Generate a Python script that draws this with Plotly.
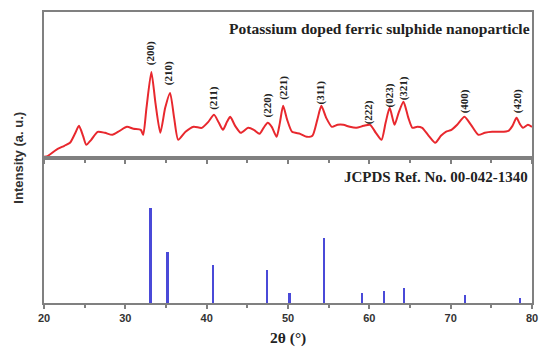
import plotly.graph_objects as go
from plotly.subplots import make_subplots

# Experimental XRD pattern (2θ in degrees, intensity in arbitrary units)
two_theta = [20.0, 20.5, 21.5, 22.5, 23.2, 23.8, 24.3, 24.8, 25.2, 25.8, 26.6, 27.5, 28.4, 29.3,
             30.2, 31.0, 31.9, 32.2, 32.6, 33.2, 33.7, 34.3, 34.9, 35.5, 36.0, 36.5, 37.4, 38.4,
             39.4, 40.2, 40.9, 41.5, 42.0, 42.5, 42.9, 43.5, 44.2, 45.1, 45.8, 46.5, 47.0, 47.5,
             48.0, 48.6, 49.0, 49.4, 49.9, 50.5, 51.5, 52.3, 53.0, 53.6, 54.1, 54.7, 55.4, 56.1,
             56.8, 57.6, 58.4, 59.3, 60.1, 60.8, 61.5, 62.0, 62.5, 63.1, 63.6, 64.2, 64.8, 65.3,
             65.9, 66.5, 67.3, 68.1, 68.8, 69.4, 70.1, 70.8, 71.7, 72.5, 73.4, 74.2, 75.1, 76.1,
             77.1, 77.6, 78.1, 78.5, 78.9, 79.5, 80.0]
intensity = [1, 2, 8, 12, 15, 24, 32, 22, 13, 18, 26, 25, 23, 27,
             31, 29, 28, 23, 50, 86, 55, 25, 50, 65, 40, 18, 26, 31,
             30, 36, 43, 35, 28, 36, 41, 32, 25, 30, 28, 24, 30, 35,
             31, 21, 35, 52, 38, 26, 24, 21, 22, 38, 52, 40, 31, 33,
             33, 31, 30, 32, 33, 25, 18, 35, 50, 33, 45, 56, 40, 30,
             31, 30, 22, 15, 22, 26, 28, 33, 41, 33, 23, 25, 26, 26,
             27, 32, 40, 34, 30, 33, 31]

# Miller index labels
hkl_labels = ["(200)", "(210)", "(211)", "(220)", "(221)", "(311)", "(222)", "(023)", "(321)", "(400)", "(420)"]
hkl_theta = [33.2, 35.4, 40.9, 47.5, 49.5, 54.0, 59.9, 62.5, 64.2, 71.7, 78.2]
hkl_base = [91, 71, 46, 38, 56, 51, 31, 48, 56, 43, 43]

# JCPDS reference lines
ref_theta = [33.1, 35.2, 40.8, 47.4, 50.2, 54.4, 59.1, 61.8, 64.3, 71.8, 78.5]
ref_int = [95, 51, 38, 33, 10, 65, 10, 12, 15, 8, 5]

x_ticks = [20, 30, 40, 50, 60, 70, 80]

fig = make_subplots(rows=2, cols=1, shared_xaxes=True, vertical_spacing=0)

fig.add_trace(go.Scatter(x=two_theta, y=intensity, mode="lines",
                         line=dict(color="#e8282e", width=2, shape="spline", smoothing=0.6),
                         showlegend=False), row=1, col=1)
fig.add_trace(go.Bar(x=ref_theta, y=ref_int, width=0.28, marker=dict(color="#4a4ad8", line=dict(width=0)),
                     showlegend=False), row=2, col=1)

axis_col = "#808080"
xcommon = dict(range=[20, 80], tickvals=x_ticks, showline=True, linecolor=axis_col, linewidth=2,
               ticks="outside", ticklen=4, tickcolor=axis_col, tickwidth=1.5, mirror=True,
               minor=dict(dtick=5, ticks="outside", ticklen=3, tickcolor=axis_col, tick0=20),
               showgrid=False, zeroline=False)
fig.update_xaxes(**xcommon)
fig.update_xaxes(showticklabels=False, row=1, col=1)
fig.update_xaxes(showticklabels=True, tickfont=dict(family="Liberation Sans", size=11, color="#333333", weight="bold"),
                 row=2, col=1)
ycommon = dict(showline=True, linecolor=axis_col, linewidth=2, mirror=True, showticklabels=False,
               ticks="", showgrid=False, zeroline=False)
fig.update_yaxes(range=[0, 146], **ycommon, row=1, col=1)
fig.update_yaxes(range=[0, 145], **ycommon, row=2, col=1)
fig.update_layout(yaxis=dict(domain=[0.499, 1]), yaxis2=dict(domain=[0, 0.499]))

annotations = []
for lab, xt, yb in zip(hkl_labels, hkl_theta, hkl_base):
    annotations.append(dict(x=xt, y=yb, xref="x", yref="y", text=lab, textangle=-90, showarrow=False,
                            yanchor="bottom", xanchor="center",
                            font=dict(family="Liberation Serif", size=11, color="#222222", weight="bold")))
annotations.append(dict(x=1.0, y=0.943, xref="paper", yref="paper", xanchor="right", yanchor="middle",
                        text="Potassium doped ferric sulphide nanoparticle", showarrow=False,
                        font=dict(family="Liberation Serif", size=15.5, color="#222222", weight="bold")))
annotations.append(dict(x=0.995, y=0.433, xref="paper", yref="paper", xanchor="right", yanchor="middle",
                        text="JCPDS Ref. No. 00-042-1340", showarrow=False,
                        font=dict(family="Liberation Serif", size=15, color="#222222", weight="bold")))
annotations.append(dict(x=-0.053, y=0.5, xref="paper", yref="paper", xanchor="center", yanchor="middle",
                        text="Intensity (a. u.)", textangle=-90, showarrow=False,
                        font=dict(family="Liberation Sans", size=13, color="#333333", weight="bold")))
annotations.append(dict(x=0.5, y=-0.12, xref="paper", yref="paper", xanchor="center", yanchor="middle",
                        text="2θ (°)", showarrow=False,
                        font=dict(family="Liberation Serif", size=15.5, color="#222222", weight="bold")))

fig.update_layout(width=548, height=347, margin=dict(l=44, r=10, t=12, b=44),
                  paper_bgcolor="white", plot_bgcolor="white", annotations=annotations,
                  bargap=0)

fig.write_html("out.html", config={"displayModeBar": False},
               post_script="document.body.style.margin='0';")
